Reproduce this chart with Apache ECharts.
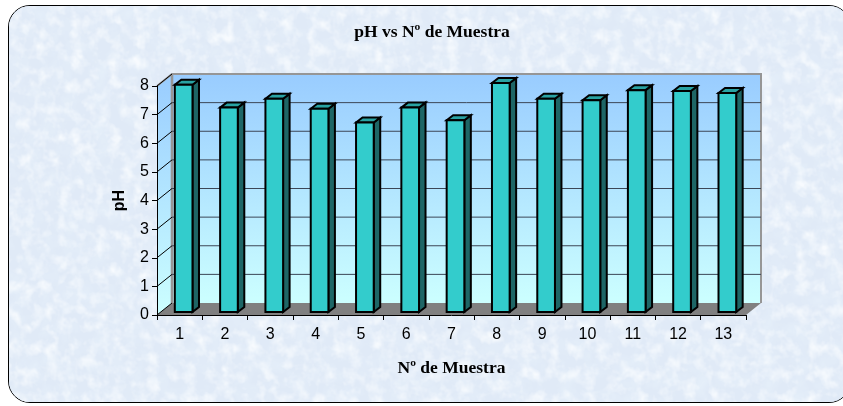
<!DOCTYPE html>
<html><head><meta charset="utf-8">
<style>
html,body{margin:0;padding:0;background:#fff;overflow:hidden}
#wrap{position:relative;width:843px;height:406px;overflow:hidden}
#panel{position:absolute;left:8px;top:5px;width:843px;height:398px;box-sizing:border-box;border:1.5px solid #000;border-radius:22px;overflow:hidden;background:#dbe8f6}
#panel svg{position:absolute;left:0;top:0}
#chart{position:absolute;left:0;top:0;width:843px;height:406px}
</style></head><body>
<div id="wrap">
<div id="panel"><svg width="843" height="398"><filter id="t" x="0" y="0" width="100%" height="100%"><feTurbulence type="fractalNoise" baseFrequency="0.06" numOctaves="4" seed="7"/><feColorMatrix type="matrix" values="0 0 0 0 0.78  0 0 0 0 0.86  0 0 0 0 0.95  1.5 1.5 0 0 -1.3"/></filter><filter id="u" x="0" y="0" width="100%" height="100%"><feTurbulence type="fractalNoise" baseFrequency="0.08" numOctaves="3" seed="23"/><feColorMatrix type="matrix" values="0 0 0 0 0.93  0 0 0 0 0.96  0 0 0 0 0.99  1.5 1.5 0 0 -1.35"/></filter><rect width="843" height="398" fill="#e0eaf7"/><rect width="843" height="398" filter="url(#t)"/><rect width="843" height="398" filter="url(#u)"/></svg></div>
<div id="chart"></div>
</div>
<script src="https://cdn.jsdelivr.net/npm/echarts@6/dist/echarts.min.js"></script>
<script>
const categories = ['1','2','3','4','5','6','7','8','9','10','11','12','13'];
const phValues = [7.94,7.14,7.45,7.1,6.62,7.14,6.7,8.0,7.45,7.4,7.75,7.72,7.65];
const yTicks = [0,1,2,3,4,5,6,7,8];
const titleText = 'pH vs Nº de Muestra';
const xName = 'Nº de Muestra';
const yName = 'pH';

const DX = 15, DY = -12;           // wall depth
const chart = echarts.init(document.getElementById('chart'), null, {renderer:'canvas'});
const wallFill = () => new echarts.graphic.LinearGradient(0,0,0,1,[{offset:0,color:'#99CCFF'},{offset:1,color:'#CCFFFF'}]);

function renderWalls(params, api){
  if (params.dataIndex !== 0) return;
  const c = params.coordSys;
  const L=c.x, R=c.x+c.width, T=c.y, B=c.y+c.height;
  return {type:'group',children:[
    {type:'polygon',shape:{points:[[L,T],[L+DX,T+DY],[L+DX,B+DY],[L,B]]},style:{fill:wallFill()}},
    {type:'rect',shape:{x:L+DX,y:T+DY,width:R-L,height:B-T},style:{fill:wallFill()}},
    {type:'polygon',shape:{points:[[L,B],[L+DX,B+DY],[R+DX,B+DY],[R,B]]},style:{fill:'#808080'}},
    {type:'polyline',shape:{points:[[L,T],[L+DX,T+DY],[R+DX,T+DY],[R+DX,B+DY]]},style:{fill:'none',stroke:'#969696',lineWidth:2}},
    {type:'line',shape:{x1:L+DX,y1:T+DY,x2:L+DX,y2:B+DY},style:{stroke:'#969696',lineWidth:2.6}}
  ]};
}
function renderGrid(params, api){
  const c = params.coordSys;
  const y = api.coord([0, api.value(0)])[1];
  const L=c.x, R=c.x+c.width;
  const children = [{type:'line',shape:{x1:L,y1:y,x2:L+DX,y2:y+DY},style:{stroke:'#000',lineWidth:1}}];
  if (api.value(0) > 0 && api.value(0) < 8) children.push({type:'line',shape:{x1:L+DX,y1:y+DY,x2:R+DX,y2:y+DY},style:{stroke:'#3c4656',lineWidth:1}});
  return {type:'group',children};
}
function renderBar(params, api){
  const p = api.coord([api.value(0), api.value(1)]);
  const base = api.coord([api.value(0), 0]);
  const w = api.size([1,0])[0]*0.39;
  const ox = 4, oy = -3, dx = 6.5, dy = -5;
  const x0 = p[0]-w/2+ox, x1 = x0+w, yt = p[1]+oy, yb = base[1]+oy;
  const s = {stroke:'#000',lineWidth:2,lineJoin:'miter'};
  return {type:'group',children:[
    {type:'polygon',shape:{points:[[x1,yt],[x1+dx,yt+dy],[x1+dx,yb+dy],[x1,yb]]},style:Object.assign({fill:'#1E6666'},s)},
    {type:'polygon',shape:{points:[[x0,yt],[x0+dx,yt+dy],[x1+dx,yt+dy],[x1,yt]]},style:Object.assign({fill:'#29A3A3'},s)},
    {type:'rect',shape:{x:x0,y:yt,width:w,height:yb-yt},style:Object.assign({fill:'#33CCCC'},s)}
  ]};
}
const txt = {color:'#000',fontFamily:'"Liberation Sans",Arial,sans-serif',fontSize:16};
chart.setOption({
  animation:false,
  backgroundColor:'transparent',
  title:{text:titleText,left:427,top:18,textAlign:'center',textStyle:{fontFamily:'"Liberation Serif",serif',fontWeight:'bold',fontSize:17.5,color:'#000'}},
  grid:{left:157,top:86,width:589,height:229},
  xAxis:{type:'category',data:categories,z:5,
    name:xName,nameLocation:'middle',nameGap:44,nameTextStyle:{fontFamily:'"Liberation Serif",serif',fontWeight:'bold',fontSize:17.5,color:'#000'},
    axisLine:{lineStyle:{color:'#000',width:1}},axisTick:{show:true,interval:0,alignWithLabel:false,length:5,lineStyle:{color:'#000'}},
    axisLabel:Object.assign({margin:12,interval:0},txt),splitLine:{show:false}},
  yAxis:{type:'value',min:0,max:8,interval:1,z:5,
    name:yName,nameLocation:'middle',nameGap:29,nameTextStyle:{fontFamily:'"Liberation Sans",sans-serif',fontWeight:'bold',fontSize:16,color:'#000'},
    axisLine:{show:true,lineStyle:{color:'#000',width:1}},axisTick:{show:true,length:5,lineStyle:{color:'#000'}},
    axisLabel:Object.assign({margin:8,padding:[4,0,0,0]},txt),splitLine:{show:false}},
  series:[
    {type:'custom',coordinateSystem:'cartesian2d',renderItem:renderWalls,data:[[0,0]],z:1,silent:true,clip:false},
    {type:'custom',coordinateSystem:'cartesian2d',renderItem:renderGrid,data:yTicks.map(v=>[v]),encode:{y:0},z:2,silent:true,clip:false},
    {type:'custom',coordinateSystem:'cartesian2d',renderItem:renderBar,data:phValues.map((v,i)=>[i,v]),encode:{x:0,y:1},z:3,clip:false}
  ]
});
</script></body></html>
